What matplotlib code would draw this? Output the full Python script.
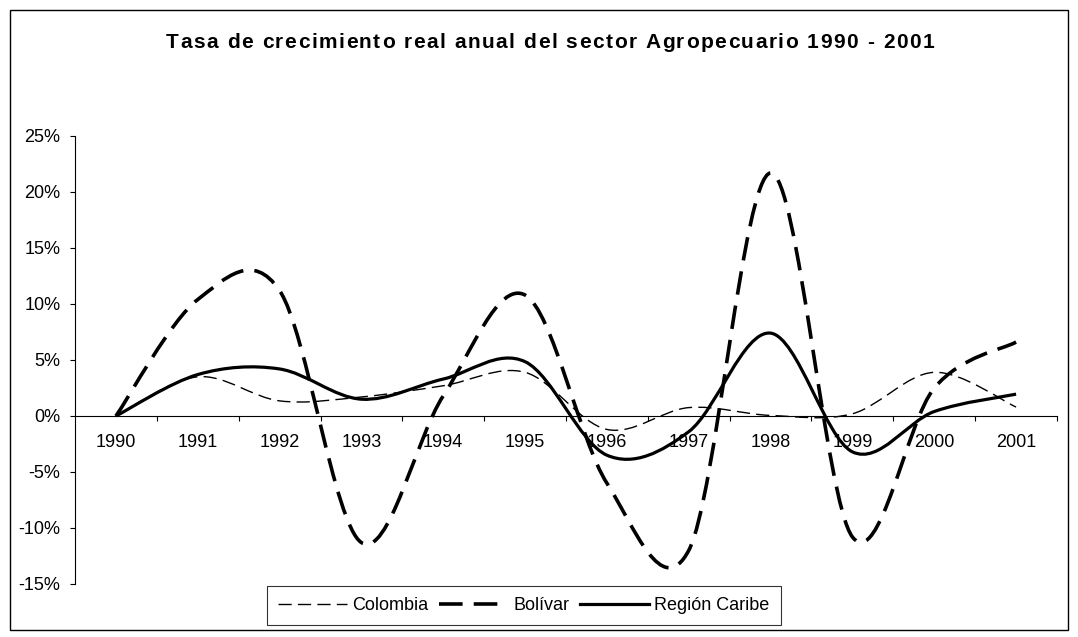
import matplotlib
matplotlib.use("Agg")
import matplotlib.pyplot as plt
from matplotlib.path import Path
from matplotlib.patches import PathPatch, Rectangle
from matplotlib.lines import Line2D
from matplotlib.ticker import FixedLocator, FuncFormatter

plt.rcParams['font.family'] = ['Liberation Sans', 'DejaVu Sans']
plt.rcParams['axes.unicode_minus'] = False
plt.rcParams['lines.scale_dashes'] = False

years = ['1990', '1991', '1992', '1993', '1994', '1995',
         '1996', '1997', '1998', '1999', '2000', '2001']
colombia = [0.0, 3.5, 1.35, 1.7, 2.7, 3.9, -1.2, 0.75, 0.05, 0.2, 3.9, 0.8]
bolivar = [0.0, 10.4, 11.2, -11.3, 1.8, 10.8, -6.0, -12.0, 21.7, -10.8, 2.5, 6.6]
caribe = [0.0, 3.7, 4.2, 1.5, 3.3, 4.85, -3.5, -1.4, 7.4, -3.2, 0.4, 1.95]

title = 'Tasa de crecimiento real anual del sector Agropecuario 1990 - 2001'

W, H = 1078, 637
fig = plt.figure(figsize=(W / 100, H / 100), dpi=100)
fig.patch.set_facecolor('white')

# marco exterior del grafico
fig.add_artist(Rectangle((10 / W, 1 - 630 / H), 1058 / W, 620 / H,
                         transform=fig.transFigure, fill=False,
                         edgecolor='black', linewidth=1.0))

ax = fig.add_axes([75 / W, 1 - 584 / H, (1057 - 75) / W, (584 - 136) / H])


def smooth_path(vals):
    # curva suavizada tipo Excel (bezier por tramos, catmull-rom)
    n = len(vals)
    pts = [(i, v) for i, v in enumerate(vals)]
    verts = [pts[0]]
    codes = [Path.MOVETO]
    for i in range(n - 1):
        p0 = pts[i - 1] if i > 0 else pts[i]
        p1 = pts[i]
        p2 = pts[i + 1]
        p3 = pts[i + 2] if i + 2 < n else pts[i + 1]
        c1 = (p1[0] + (p2[0] - p0[0]) / 6, p1[1] + (p2[1] - p0[1]) / 6)
        c2 = (p2[0] - (p3[0] - p1[0]) / 6, p2[1] - (p3[1] - p1[1]) / 6)
        verts += [c1, c2, p2]
        codes += [Path.CURVE4] * 3
    return Path(verts, codes)


styles = {
    'Colombia': dict(lw=1.0, ls=(0, (9.5, 4.5))),
    'Bolívar': dict(lw=2.6, ls=(0, (17, 8))),
    'Región Caribe': dict(lw=2.3, ls='-'),
}
series = [('Colombia', colombia), ('Bolívar', bolivar), ('Región Caribe', caribe)]

handles = []
for name, vals in series:
    st = styles[name]
    ax.add_patch(PathPatch(smooth_path(vals), fill=False, edgecolor='black',
                           linewidth=st['lw'], linestyle=st['ls'],
                           capstyle='butt', joinstyle='round'))
    handles.append(Line2D([], [], color='black', lw=st['lw'], ls=st['ls'],
                          dash_capstyle='butt'))

ax.set_xlim(-0.5, len(years) - 0.5)
ax.set_ylim(-15, 25)

for s in ['top', 'right']:
    ax.spines[s].set_visible(False)
ax.spines['left'].set_linewidth(0.8)
ax.spines['bottom'].set_position(('data', 0))
ax.spines['bottom'].set_linewidth(0.8)

ax.set_yticks(range(-15, 30, 5))
ax.yaxis.set_major_formatter(FuncFormatter(lambda v, p: '%d%%' % v))
ax.tick_params(axis='y', direction='out', length=3.6, width=0.8,
               labelsize=13, pad=7)

ax.set_xticks(range(len(years)))
ax.set_xticklabels(years)
ax.xaxis.set_minor_locator(FixedLocator([i + 0.5 for i in range(len(years))]))
ax.tick_params(axis='x', which='major', length=0, labelsize=13, pad=13)
ax.tick_params(axis='x', which='minor', direction='out', length=3.6, width=0.8)

# titulo con espaciado entre letras, como lo dibuja Excel
renderer = fig.canvas.get_renderer()
fs_title = 15
ref = fig.text(0, 0, 'xx', fontsize=fs_title, fontweight='bold')
base_w = ref.get_window_extent(renderer).width
ref.remove()
widths = []
for ch in title:
    t = fig.text(0, 0, 'x' + ch + 'x', fontsize=fs_title, fontweight='bold')
    widths.append(t.get_window_extent(renderer).width - base_w)
    t.remove()
target_w = 768
gap = (target_w - sum(widths)) / (len(title) - 1)
x = 550 - target_w / 2
for ch, w in zip(title, widths):
    fig.text(x / W, 1 - 48 / H, ch, fontsize=fs_title, fontweight='bold',
             ha='left', va='baseline')
    x += w + gap

leg = fig.legend(handles, [n for n, _ in series], loc='center',
                 bbox_to_anchor=(524 / W, 1 - 605.5 / H), ncol=3,
                 fontsize=13, frameon=True, fancybox=False,
                 handlelength=3.8, handletextpad=0.3, columnspacing=0.6,
                 borderpad=0.62, borderaxespad=0)
leg.get_frame().set_edgecolor('black')
leg.get_frame().set_linewidth(0.8)

fig.savefig('out.png', dpi=100, facecolor='white')
